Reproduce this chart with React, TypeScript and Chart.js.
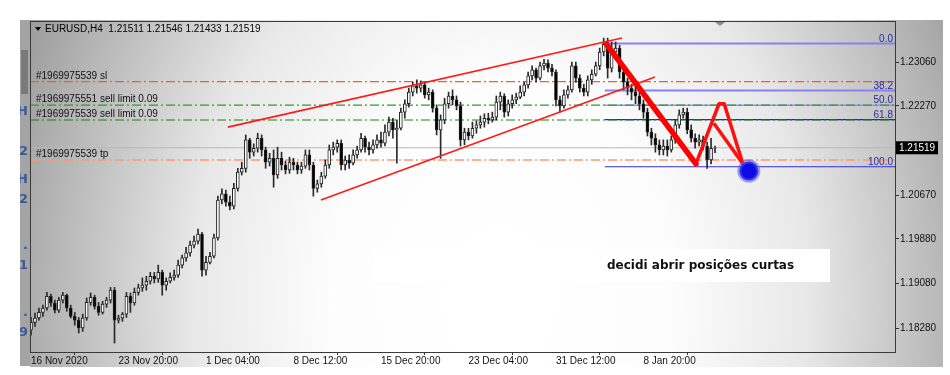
import { useEffect, useRef } from 'react';
import { Chart, registerables } from 'chart.js';

Chart.register(...registerables);

// Candle values are stored in pips above BASE_PRICE (1 pip = 0.0001); each candle = 8h.
const BASE_PRICE = 1.18;
const PIP = 0.0001;

const openPips = [
  24, 38, 46, 56, 64, 85, 73, 60, 78, 87, 64, 49, 42, 28, 46, 74, 83, 67, 56, 71,
  78, 96, 42, 46, 53, 85, 73, 92, 100, 105, 112, 121, 116, 128, 105, 112, 119, 123, 141, 154,
  163, 177, 184, 197, 132, 146, 157, 190, 258, 269, 254, 247, 279, 308, 315, 366, 344, 351, 369, 348,
  326, 333, 303, 333, 321, 312, 326, 321, 312, 319, 339, 321, 279, 287, 301, 321, 348, 353, 360, 321,
  330, 324, 339, 348, 369, 353, 348, 357, 366, 360, 380, 398, 384, 387, 416, 431, 452, 463, 459, 465,
  447, 452, 423, 384, 402, 431, 445, 438, 427, 366, 380, 373, 387, 393, 398, 405, 402, 407, 434, 445,
  416, 431, 438, 443, 452, 465, 481, 492, 477, 499, 504, 495, 488, 438, 427, 447, 456, 499, 477, 459,
  452, 474, 484, 499, 524, 538, 495, 524, 531, 488, 470, 459, 452, 445, 431, 416, 380, 369, 357, 348,
  355, 348, 366, 393, 411, 416, 384, 369, 362, 366, 355, 330, 351,
];
const highPips = [
  47, 55, 64, 69, 92, 89, 78, 83, 92, 89, 69, 56, 47, 53, 82, 91, 87, 74, 76, 83,
  101, 101, 51, 56, 92, 91, 100, 107, 118, 121, 128, 128, 141, 132, 118, 127, 132, 150, 159, 173,
  184, 193, 206, 200, 157, 164, 197, 265, 278, 276, 265, 288, 315, 326, 375, 369, 359, 378, 375, 353,
  342, 348, 353, 344, 328, 335, 333, 326, 326, 348, 348, 326, 294, 308, 330, 357, 362, 366, 366, 337,
  339, 348, 355, 378, 373, 362, 366, 375, 380, 393, 407, 405, 402, 423, 438, 459, 470, 474, 472, 470,
  459, 456, 429, 411, 441, 452, 456, 445, 434, 387, 387, 398, 400, 409, 413, 414, 416, 445, 452, 449,
  438, 447, 450, 463, 470, 488, 499, 495, 506, 511, 510, 502, 492, 445, 456, 463, 506, 506, 483, 466,
  481, 492, 506, 531, 549, 549, 542, 542, 536, 495, 477, 466, 463, 452, 438, 423, 387, 377, 366, 366,
  366, 373, 402, 420, 423, 423, 393, 377, 375, 373, 362, 369, 355,
];
const lowPips = [
  15, 31, 42, 49, 60, 67, 55, 56, 73, 58, 46, 33, 19, 22, 42, 69, 62, 51, 53, 65,
  73, 1, 37, 40, 47, 56, 69, 87, 94, 96, 107, 109, 110, 87, 96, 109, 114, 119, 136, 148,
  157, 172, 179, 121, 123, 143, 154, 186, 251, 247, 240, 242, 274, 303, 308, 333, 337, 344, 337, 315,
  319, 281, 297, 312, 305, 306, 312, 305, 306, 315, 312, 265, 272, 281, 297, 315, 339, 344, 312, 312,
  315, 321, 333, 344, 344, 339, 342, 351, 353, 355, 373, 369, 324, 384, 405, 425, 445, 450, 452, 441,
  438, 416, 375, 333, 395, 423, 429, 420, 355, 357, 366, 369, 378, 387, 389, 395, 398, 402, 420, 407,
  409, 423, 431, 440, 445, 459, 474, 470, 474, 492, 488, 481, 427, 416, 423, 441, 452, 470, 452, 445,
  445, 466, 481, 492, 517, 477, 488, 510, 477, 456, 447, 438, 431, 420, 405, 373, 357, 344, 339, 339,
  337, 344, 360, 387, 405, 377, 362, 351, 355, 348, 315, 323, 343,
];
const closePips = [
  38, 46, 56, 64, 85, 73, 60, 78, 87, 64, 49, 42, 28, 46, 74, 83, 67, 56, 71, 78,
  96, 42, 46, 53, 85, 73, 92, 100, 105, 112, 121, 116, 128, 105, 112, 119, 123, 141, 154, 163,
  177, 184, 197, 132, 146, 157, 190, 258, 269, 254, 247, 279, 308, 315, 366, 344, 351, 369, 348, 326,
  333, 303, 333, 321, 312, 326, 321, 312, 319, 339, 321, 279, 287, 301, 321, 348, 353, 360, 321, 330,
  324, 339, 348, 369, 353, 348, 357, 366, 360, 380, 398, 384, 387, 416, 431, 452, 463, 459, 465, 447,
  452, 423, 384, 402, 431, 445, 438, 427, 366, 380, 373, 387, 393, 398, 405, 402, 407, 434, 445, 416,
  431, 438, 443, 452, 465, 481, 492, 477, 499, 504, 495, 488, 438, 427, 447, 456, 499, 477, 459, 452,
  474, 484, 499, 524, 538, 495, 524, 531, 488, 470, 459, 452, 445, 431, 416, 380, 369, 357, 348, 355,
  348, 366, 393, 411, 416, 384, 369, 362, 366, 355, 330, 351, 352,
];

const headerText = 'EURUSD,H4  1.21511 1.21546 1.21433 1.21519';
const currentPrice = 1.21519;

const xTickIndex = [0, 22, 44, 66, 88, 110, 132, 154];
const xTickLabels = [
  '16 Nov 2020', '23 Nov 20:00', '1 Dec 04:00', '8 Dec 12:00',
  '15 Dec 20:00', '23 Dec 04:00', '31 Dec 12:00', '8 Jan 20:00',
];
const yTickValues = [1.1828, 1.1908, 1.1988, 1.2067, 1.2227, 1.2306];

const X_MIN = -0.25;
const X_MAX = 217.25;
const Y_MIN = 1.17849;
const Y_MAX = 1.23797;

const orderNames = [
  '#1969975539 sl',
  '#1969975551 sell limit 0.09',
  '#1969975539 sell limit 0.09',
  '#1969975539 tp',
];
const orderPrices = [1.22706, 1.22287, 1.22018, 1.213];
const orderColors = ['#ff5a1f', '#2f9a2f', '#138a13', '#ff9870'];
const orderWidths = [1.2, 1.2, 1.2, 1.6];

const fibLabels = ['0.0', '38.2', '50.0', '61.8', '100.0'];
const fibPrices = [1.23392, 1.22546, 1.22285, 1.22024, 1.21178];
const fibColors = ['#8484ee', '#8484ee', '#9494f0', '#2020d8', '#3030c8'];
const fibWidths = [2, 2, 1.5, 1.2, 1.2];
const fibStartIndex = 144.3;

const channelUpperX = [49.5, 148.6];
const channelUpperY = [1.2189, 1.2349];
const channelLowerX = [72.9, 156.9];
const channelLowerY = [1.2058, 1.2279];
const impulseX = [144.8, 167.2];
const impulseY = [1.2337, 1.2123];
const zigzagX = [167.2, 173.0, 174.3, 179.0];
const zigzagY = [1.2123, 1.2231, 1.2231, 1.2123];
const branchX = [171.7, 179.0];
const branchY = [1.2196, 1.2123];
const targetX = [180.5];
const targetY = [1.211];

const noteText = 'decidi abrir posições curtas';

const FONT = '"Liberation Sans", Arial, sans-serif';

const toPrice = (p: number) => BASE_PRICE + p * PIP;
const pts = (xs: number[], ys: number[]) => xs.map((x, i) => ({ x, y: ys[i] }));

const backgroundPlugin = {
  id: 'mtBackground',
  beforeDraw(chart: any) {
    const { ctx, width, height } = chart;
    ctx.save();
    ctx.fillStyle = '#ffffff';
    ctx.fillRect(0, 0, width, height);

    // left strip (neighbouring window)
    ctx.fillStyle = '#a4a4a4';
    ctx.fillRect(20, 20, 10, 346);
    ctx.fillStyle = '#7a7a7a';
    ctx.fillRect(21, 50, 7, 44);
    ctx.save();
    ctx.beginPath();
    ctx.rect(20, 20, 10, 346);
    ctx.clip();
    ctx.fillStyle = '#3a5a9c';
    ctx.font = 'bold 13px "DejaVu Sans"';
    ctx.textAlign = 'right';
    ctx.textBaseline = 'middle';
    [['H', 112], ['2', 152], ['H', 180], ['2', 200], ['.', 246], ['1', 266], ['.', 313], ['9', 333]].forEach(
      ([t, y]) => ctx.fillText(t as string, 28, y as number),
    );
    ctx.restore();

    // radial gradient window background
    ctx.save();
    ctx.beginPath();
    ctx.rect(30, 20, 913, 347);
    ctx.clip();
    ctx.translate(500, 300);
    ctx.scale(1, 1.3);
    const g = ctx.createRadialGradient(0, 0, 0, 0, 0, 560);
    g.addColorStop(0, '#ffffff');
    g.addColorStop(0.3, '#fdfdfd');
    g.addColorStop(0.55, '#e8e8e8');
    g.addColorStop(0.8, '#b6b6b6');
    g.addColorStop(1, '#8c8c8c');
    ctx.fillStyle = g;
    ctx.fillRect(-600, -300, 1200, 600);
    ctx.restore();

    // text note box
    ctx.fillStyle = '#ffffff';
    ctx.fillRect(373, 249, 457, 33);
    ctx.fillStyle = '#111111';
    ctx.font = 'bold 12px "DejaVu Sans"';
    ctx.textAlign = 'left';
    ctx.textBaseline = 'middle';
    ctx.fillText(noteText, 607, 266);
    ctx.restore();
  },
};

const overlayPlugin = {
  id: 'mtOverlay',
  afterDraw(chart: any) {
    const { ctx, chartArea } = chart;
    const y = chart.scales.y;
    ctx.save();
    // frame
    ctx.strokeStyle = '#3a3a3a';
    ctx.lineWidth = 1;
    ctx.strokeRect(chartArea.left + 0.5, chartArea.top + 0.5, chartArea.right - chartArea.left, chartArea.bottom - chartArea.top);

    // header
    ctx.fillStyle = '#000';
    ctx.beginPath();
    ctx.moveTo(35, 27);
    ctx.lineTo(41, 27);
    ctx.lineTo(38, 31);
    ctx.closePath();
    ctx.fill();
    ctx.font = `10px ${FONT}`;
    ctx.textBaseline = 'middle';
    ctx.textAlign = 'left';
    ctx.fillText(headerText, 45, 29.5);

    // chart shift marker
    ctx.fillStyle = '#8c8c8c';
    ctx.beginPath();
    ctx.moveTo(715, 22);
    ctx.lineTo(725, 22);
    ctx.lineTo(720, 26);
    ctx.closePath();
    ctx.fill();

    // order labels
    ctx.fillStyle = '#111';
    ctx.textBaseline = 'alphabetic';
    orderNames.forEach((n, i) => {
      ctx.fillText(n, chartArea.left + 6, y.getPixelForValue(orderPrices[i]) - 3);
    });

    // fib labels
    ctx.fillStyle = '#2a2aa4';
    ctx.textAlign = 'right';
    fibLabels.forEach((n, i) => {
      ctx.fillText(n, chartArea.right - 2, y.getPixelForValue(fibPrices[i]) - 2);
    });

    // current price box
    const py = y.getPixelForValue(currentPrice);
    ctx.fillStyle = '#000';
    ctx.fillRect(chartArea.right + 1, py - 6.5, 42, 13);
    ctx.fillStyle = '#fff';
    ctx.textAlign = 'left';
    ctx.textBaseline = 'middle';
    ctx.fillText(currentPrice.toFixed(5), chartArea.right + 4, py + 0.5);
    ctx.restore();
  },
};

export default function App() {
  const ref = useRef<HTMLCanvasElement | null>(null);

  useEffect(() => {
    if (!ref.current) return;
    const bodies = closePips.map((c, i) => ({ x: i, y: [toPrice(openPips[i]), toPrice(c)] }));
    const wicks = closePips.map((_, i) => ({ x: i, y: [toPrice(lowPips[i]), toPrice(highPips[i])] }));
    const bodyColors = closePips.map((c, i) => (c >= openPips[i] ? '#ffffff' : '#000000'));

    const lineDs = (data: any[], color: string, width: number, order: number, dash: number[] = []) => ({
      type: 'line' as const,
      data,
      borderColor: color,
      borderWidth: width,
      borderDash: dash,
      pointRadius: 0,
      fill: false,
      tension: 0,
      order,
    });

    const datasets: any[] = [
      {
        type: 'line',
        data: pts(targetX, targetY),
        showLine: false,
        pointRadius: 9.5,
        pointBorderWidth: 4,
        pointBackgroundColor: '#0c0ce2',
        pointBorderColor: 'rgba(86,86,236,0.55)',
        order: 0,
      },
      { ...lineDs(pts(impulseX, impulseY), '#ff0000', 5.5, 1), borderCapStyle: 'round' },
      { ...lineDs(pts(zigzagX, zigzagY), '#ff1010', 3.5, 1), borderJoinStyle: 'round' },
      lineDs(pts(branchX, branchY), '#ff1010', 3.5, 1),
      lineDs(pts(channelUpperX, channelUpperY), '#ff1a1a', 1.6, 2),
      lineDs(pts(channelLowerX, channelLowerY), '#ff1a1a', 1.6, 2),
      {
        type: 'bar',
        data: bodies,
        backgroundColor: bodyColors,
        borderColor: '#222222',
        borderWidth: 1,
        borderSkipped: false,
        barThickness: 3,
        grouped: false,
        order: 5,
      },
      {
        type: 'bar',
        data: wicks,
        backgroundColor: '#2a2a2a',
        borderWidth: 0,
        barThickness: 1,
        grouped: false,
        order: 6,
      },
      ...fibPrices.map((p, i) =>
        lineDs(pts([fibStartIndex, X_MAX], [p, p]), fibColors[i], fibWidths[i], 8),
      ),
      ...orderPrices.map((p, i) =>
        lineDs(pts([X_MIN, X_MAX], [p, p]), orderColors[i], orderWidths[i], 7, [9, 3, 2, 3]),
      ),
      lineDs(pts([X_MIN, X_MAX], [currentPrice, currentPrice]), '#b8b8b8', 1, 9),
    ];

    const chart = new Chart(ref.current, {
      type: 'bar',
      data: { datasets },
      options: {
        responsive: false,
        animation: false,
        devicePixelRatio: 1,
        layout: { padding: { left: 30, top: 21, right: 0, bottom: 0 } },
        plugins: { legend: { display: false }, tooltip: { enabled: false } },
        scales: {
          x: {
            type: 'linear',
            min: X_MIN,
            max: X_MAX,
            offset: false,
            border: { display: false },
            grid: { drawOnChartArea: false, drawTicks: true, tickLength: 3, color: '#333' },
            ticks: {
              autoSkip: false,
              maxRotation: 0,
              minRotation: 0,
              align: 'start',
              padding: 0,
              color: '#111',
              font: { family: FONT, size: 10 },
              callback: (v: any) => {
                const idx = xTickIndex.indexOf(Number(v));
                return idx >= 0 ? xTickLabels[idx] : '';
              },
            },
            afterBuildTicks: (s: any) => {
              s.ticks = xTickIndex.map((v) => ({ value: v }));
            },
            afterFit: (s: any) => {
              s.height = 23;
            },
          },
          y: {
            type: 'linear',
            position: 'right',
            min: Y_MIN,
            max: Y_MAX,
            border: { display: false },
            grid: { drawOnChartArea: false, drawTicks: true, tickLength: 4, color: '#333' },
            ticks: {
              autoSkip: false,
              padding: 1,
              color: '#111',
              font: { family: FONT, size: 10 },
              callback: (v: any) => Number(v).toFixed(5),
            },
            afterBuildTicks: (s: any) => {
              s.ticks = yTickValues.map((v) => ({ value: v }));
            },
            afterFit: (s: any) => {
              s.width = 55;
            },
          },
        },
      } as any,
      plugins: [backgroundPlugin, overlayPlugin],
    });
    return () => chart.destroy();
  }, []);

  return (
    <div style={{ position: 'fixed', left: 0, top: 0, width: 950, height: 375 }}>
      <canvas ref={ref} width={950} height={375} style={{ display: 'block', width: 950, height: 375 }} />
    </div>
  );
}
